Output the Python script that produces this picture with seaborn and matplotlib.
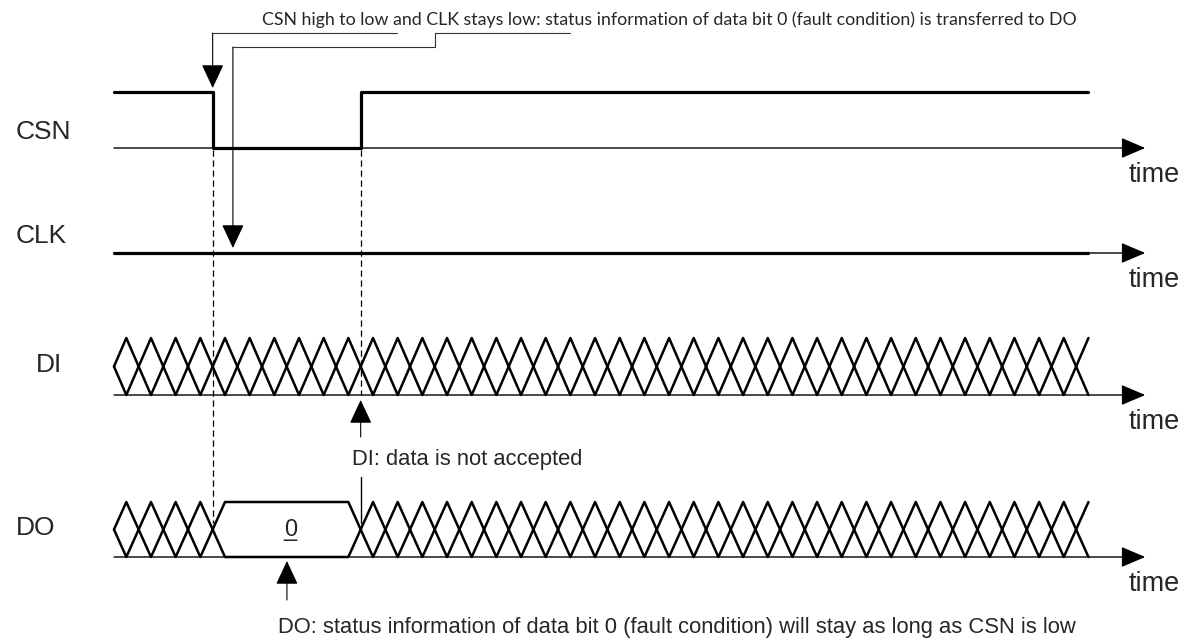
import matplotlib
matplotlib.use("Agg")
import matplotlib.pyplot as plt
import pandas as pd
import seaborn as sns

# signal names (left labels)
signals = ["CSN", "CLK", "DI", "DO"]

# CSN / CLK level changes, time in bit periods
csn_times = [0, 4, 4, 10, 10, 39.5]
csn_levels = [1, 1, 0, 0, 1, 1]
clk_times = [0, 39.5]
clk_levels = [0, 0]

# bus transitions (unknown data between them)
di_edges = [0, 1, 2, 3, 4, 5, 6, 7, 8, 9, 10, 11, 12, 13, 14, 15, 16, 17, 18, 19,
            20, 21, 22, 23, 24, 25, 26, 27, 28, 29, 30, 31, 32, 33, 34, 35, 36, 37, 38, 39]
do_edges = [0, 1, 2, 3, 4, 10, 11, 12, 13, 14, 15, 16, 17, 18, 19,
            20, 21, 22, 23, 24, 25, 26, 27, 28, 29, 30, 31, 32, 33, 34, 35, 36, 37, 38, 39]
do_valid = (4, 10)
do_value = "0"
bus_end = 39.5
time_end = 41.8

top_note = "CSN high to low and CLK stays low: status information of data bit 0 (fault condition) is transferred to DO"
di_note = "DI: data is not accepted"
do_note = "DO: status information of data bit 0 (fault condition) will stay as long as CSN is low"

# layout (pixel rows, x in bit periods)
lane_base = {"CSN": 148, "CLK": 253, "DI": 395, "DO": 557}
lane_high = {"CSN": 92, "CLK": 197, "DI": 338, "DO": 502}
label_x = {"CSN": -3.99, "CLK": -3.99, "DI": -3.18, "DO": -3.99}
label_y = {"CSN": 132, "CLK": 236, "DI": 365, "DO": 528}

sns.set_theme(style="white")
plt.rcParams['font.family'] = ['Liberation Sans', 'DejaVu Sans']

fig = plt.figure(figsize=(11.98, 6.39), dpi=100)
ax = fig.add_axes([0, 0, 1, 1])
ax.set_xlim(-4.62, 43.94)
ax.set_ylim(639, 0)
ax.axis("off")

thin = dict(color="black", lw=1.0)
arrow_kw = dict(arrowstyle="-|>,head_length=0.75,head_width=0.32", color="black",
                lw=1.0, mutation_scale=20, shrinkA=0, shrinkB=0)


def level_y(name, levels):
    return [lane_base[name] - lv * (lane_base[name] - lane_high[name]) for lv in levels]


# time axes with arrows
for name in signals:
    y = lane_base[name]
    ax.annotate("", xy=(time_end, y), xytext=(0, y), arrowprops=arrow_kw)
    ax.text(41.14, y + 27, "time", fontsize=19.5, ha="left", va="center")
    ax.text(label_x[name], label_y[name], name, fontsize=19, ha="left", va="center")

# CSN and CLK traces
wave = pd.DataFrame({"t": csn_times, "y": level_y("CSN", csn_levels)})
sns.lineplot(data=wave, x="t", y="y", ax=ax, color="black", lw=2.3,
             estimator=None, sort=False, legend=False)
wave = pd.DataFrame({"t": clk_times, "y": level_y("CLK", clk_levels)})
sns.lineplot(data=wave, x="t", y="y", ax=ax, color="black", lw=2.3,
             estimator=None, sort=False, legend=False)


def draw_bus(name, edges):
    base, top = lane_base[name], lane_high[name]
    mid = (base + top) / 2
    h = 0.5
    for i, t0 in enumerate(edges):
        if i + 1 < len(edges):
            t1 = edges[i + 1]
            xs = [t0, t0 + h, t1 - h, t1]
            ax.plot(xs, [mid, top, top, mid], color="black", lw=1.8)
            ax.plot(xs, [mid, base, base, mid], color="black", lw=1.8)
        else:
            ax.plot([t0, bus_end], [mid, top], color="black", lw=1.8)
            ax.plot([t0, bus_end], [mid, base], color="black", lw=1.8)


draw_bus("DI", di_edges)
draw_bus("DO", do_edges)
# underlined value in the DO window
vx = sum(do_valid) / 2 + 0.15
ax.text(vx, 536, do_value, fontsize=17, ha="center", va="baseline")
ax.text(vx, 536, "_", fontsize=17, ha="center", va="baseline")

# dashed guides
ax.plot([4, 4], [150, 523], color="black", lw=0.9, ls=(0, (5, 3)))
ax.plot([10, 10], [150, 395], color="black", lw=0.9, ls=(0, (5, 3)))
ax.plot([10, 10], [477, 523], **thin)

# top callout
note_kw = dict(arrowstyle="-|>,head_length=0.75,head_width=0.35", color="black",
               lw=0.8, mutation_scale=20, shrinkA=0, shrinkB=0)
ax.plot([4, 11.47], [33, 33], color="#333333", lw=0.8)
ax.annotate("", xy=(4, 88), xytext=(4, 33), arrowprops=note_kw)
ax.plot([4.82, 13.01, 13.01, 18.48], [47, 47, 33, 33], color="#333333", lw=0.8)
ax.annotate("", xy=(4.82, 248), xytext=(4.82, 47), arrowprops=note_kw)
ax.text(5.99, 25, top_note, fontsize=12.8, family=["Lato", "DejaVu Sans"],
        ha="left", va="baseline")

# DI / DO notes
ax.annotate("", xy=(10, 400), xytext=(10, 437), arrowprops=note_kw)
ax.text(9.65, 465, di_note, fontsize=15.8, ha="left", va="baseline")
ax.annotate("", xy=(7.01, 561), xytext=(7.01, 600), arrowprops=note_kw)
ax.text(6.65, 633, do_note, fontsize=15.8, ha="left", va="baseline")

fig.savefig("out.png", dpi=100)
